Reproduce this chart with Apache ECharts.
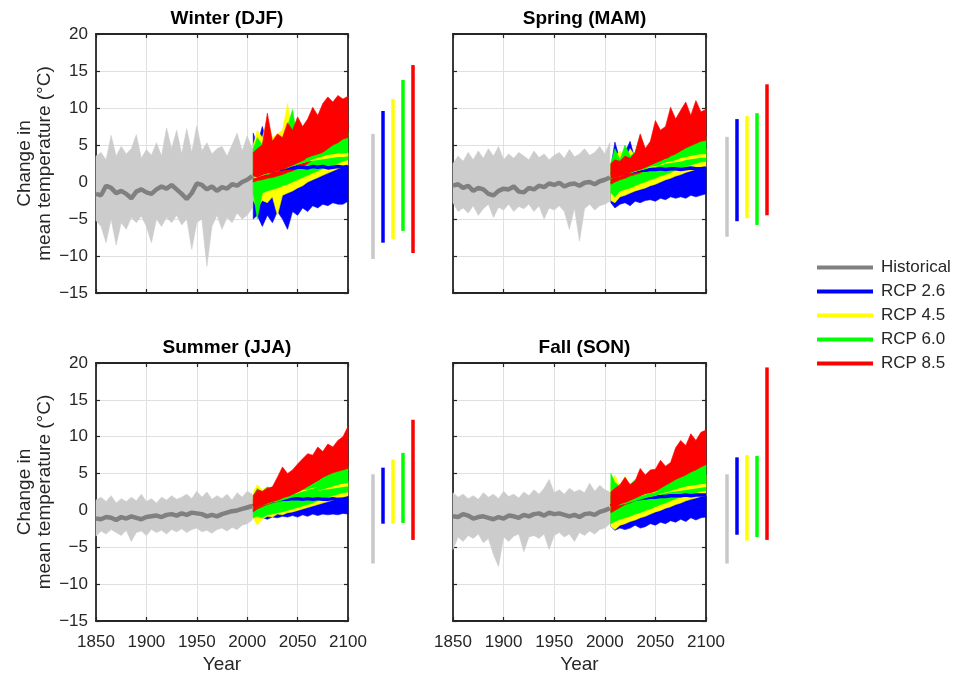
<!DOCTYPE html>
<html><head><meta charset="utf-8">
<script src="https://cdn.jsdelivr.net/npm/echarts@6.0.0/dist/echarts.min.js"></script>
<style>html,body{margin:0;padding:0;background:#fff}#chart{width:965px;height:673px}</style>
</head><body><div id="chart"></div>
<script>
// ---------- labels ----------
const panelTitles = ['Winter (DJF)', 'Spring (MAM)', 'Summer (JJA)', 'Fall (SON)'];
const scenarioNames = ['Historical', 'RCP 2.6', 'RCP 4.5', 'RCP 6.0', 'RCP 8.5'];
const xTickLabels = [1850, 1900, 1950, 2000, 2050, 2100];
const yTickLabels = [-15, -10, -5, 0, 5, 10, 15, 20];
const yLabel = 'Change in\nmean temperature (\u00B0C)';
const xLabel = 'Year';

// ---------- years ----------
const yearsHist = [1850,1855,1860,1865,1870,1875,1880,1885,1890,1895,1900,1905,1910,1915,1920,1925,1930,1935,1940,1945,1950,1955,1960,1965,1970,1975,1980,1985,1990,1995,2000,2005];
const yearsRcp = [2006,2010,2015,2020,2025,2030,2035,2040,2045,2050,2055,2060,2065,2070,2075,2080,2085,2090,2095,2100];

// ---------- Winter (DJF) ----------
const djfHistHi = [3.5,4.0,3.0,6.3,3.5,4.8,3.8,4.5,6.4,3.2,4.4,3.6,5.3,3.5,7.3,4.5,7.0,3.8,7.2,4.0,7.6,4.2,5.3,3.8,4.5,4.8,3.5,5.0,6.6,4.2,6.2,4.5];
const djfHistLo = [-5.2,-6.0,-8.2,-5.0,-8.5,-5.5,-6.4,-4.8,-5.5,-4.6,-6.0,-8.2,-5.0,-6.0,-4.8,-5.5,-4.5,-5.8,-5.0,-9.1,-5.5,-5.0,-11.4,-6.0,-4.5,-6.4,-4.8,-5.5,-4.2,-5.0,-4.5,-3.5];
const djfHistMean = [-1.6,-1.8,-0.5,-0.8,-1.5,-1.2,-1.6,-2.2,-1.3,-1.0,-1.4,-1.6,-1.0,-0.6,-0.9,-0.4,-1.0,-1.6,-2.3,-1.5,-0.2,-0.4,-1.0,-0.6,-1.2,-0.7,-0.9,-0.3,-0.5,0.0,0.3,0.8];
const djf26Hi = [6.6,5.0,7.5,5.0,6.0,5.0,4.0,4.0,3.5,3.5,3.0,3.0,2.8,3.0,2.8,3.0,2.8,3.0,2.8,3.0];
const djf26Lo = [-5.0,-4.5,-6.0,-4.5,-5.5,-4.0,-5.0,-6.4,-4.0,-4.5,-3.5,-4.0,-3.2,-3.5,-3.0,-3.2,-2.8,-3.0,-3.0,-2.6];
const djf26Mean = [0.8,1.0,1.2,1.4,1.5,1.7,1.8,1.9,1.9,2.0,2.0,1.9,2.1,2.0,2.1,1.9,2.0,2.1,2.0,2.1];
const djf45Hi = [5.0,7.0,6.0,8.5,6.0,6.5,7.0,10.6,6.5,6.0,5.0,4.5,4.5,4.2,4.0,4.2,3.8,4.0,3.8,4.0];
const djf45Lo = [-2.5,-3.5,-2.5,-2.8,-2.0,-4.5,-1.8,-1.5,-1.2,-0.8,-0.5,0.0,0.3,0.6,0.9,1.2,1.5,1.8,2.0,2.2];
const djf45Mean = [0.7,0.9,1.1,1.4,1.6,1.7,2.0,2.2,2.4,2.6,2.8,3.0,3.1,3.2,3.3,3.4,3.5,3.6,3.6,3.7];
const djf60Hi = [4.5,6.0,5.0,7.5,5.5,6.0,5.5,7.5,9.8,5.5,5.8,6.2,5.5,6.0,6.5,6.2,6.8,6.5,7.0,6.8];
const djf60Lo = [-1.5,-5.0,-1.5,-1.2,-1.0,-0.8,-0.5,-0.3,0.0,0.3,0.6,0.9,1.2,1.5,1.8,2.0,2.2,2.5,2.8,3.0];
const djf60Mean = [0.8,1.0,1.3,1.2,1.6,1.8,2.0,2.1,2.4,2.6,2.8,3.0,3.3,3.5,3.7,4.0,4.1,4.3,4.5,4.6];
const djf85Hi = [4.0,4.5,5.0,9.3,5.5,6.5,6.0,8.0,7.0,8.8,7.5,8.5,10.1,9.0,10.6,11.5,10.8,11.7,11.2,11.6];
const djf85Lo = [0.0,0.2,0.3,0.5,0.6,0.8,1.0,1.3,1.5,1.8,2.0,2.5,3.0,3.5,4.0,4.5,5.0,5.3,5.8,6.0];
const djf85Mean = [1.1,1.0,1.3,1.5,1.6,1.8,2.0,2.3,2.6,2.9,3.2,3.8,4.3,4.8,5.4,6.1,6.5,7.0,7.4,7.8];
const djfRangeLo = [-10.4,-8.2,-7.7,-6.6,-9.6];
const djfRangeHi = [6.5,9.6,11.2,13.8,15.8];

// ---------- Spring (MAM) ----------
const mamHistHi = [2.5,3.5,2.8,4.0,3.0,4.2,3.2,4.5,3.5,4.8,3.0,3.8,3.2,4.0,3.5,3.0,4.2,3.3,3.8,3.0,3.6,4.0,3.2,4.4,3.4,3.8,4.5,3.6,4.0,4.8,3.8,5.3];
const mamHistLo = [-2.8,-4.0,-3.5,-4.2,-3.2,-4.5,-3.6,-3.0,-4.8,-3.4,-3.8,-3.0,-4.0,-3.3,-3.6,-3.0,-4.0,-3.2,-5.0,-3.5,-3.8,-3.2,-4.0,-6.4,-3.5,-8.0,-3.6,-3.0,-3.8,-3.2,-3.0,-2.6];
const mamHistMean = [-0.5,-0.3,-0.8,-0.5,-1.2,-0.8,-1.0,-1.6,-1.8,-1.2,-0.9,-1.0,-0.6,-1.3,-1.4,-0.8,-1.0,-0.5,-0.7,-0.2,-0.4,-0.1,-0.6,-0.3,-0.2,-0.5,-0.1,0.0,-0.3,0.1,0.3,0.6];
const mam26Hi = [2.0,5.4,3.0,4.0,5.5,3.0,4.0,3.0,3.5,3.0,3.2,3.0,3.2,3.0,3.3,3.0,3.2,3.0,3.3,3.0];
const mam26Lo = [-2.8,-3.5,-3.0,-2.8,-3.2,-2.6,-2.8,-2.5,-2.4,-2.6,-2.2,-2.4,-2.0,-2.2,-2.0,-2.2,-1.8,-2.0,-1.8,-1.6];
const mam26Mean = [0.7,0.9,1.1,1.2,1.4,1.5,1.6,1.6,1.7,1.7,1.8,1.7,1.8,1.8,1.7,1.8,1.9,1.8,1.8,1.9];
const mam45Hi = [2.5,3.5,4.2,3.0,4.5,3.5,4.0,4.8,4.0,4.5,4.0,4.5,4.2,4.4,4.2,4.5,4.3,4.6,4.4,4.5];
const mam45Lo = [-2.5,-2.8,-2.0,-1.8,-1.5,-1.2,-1.0,-0.8,-0.5,-0.3,0.0,0.3,0.5,0.8,1.0,1.3,1.5,1.7,1.9,2.0];
const mam45Mean = [0.7,0.9,1.0,1.3,1.5,1.6,1.8,2.0,2.2,2.3,2.5,2.7,2.8,2.9,3.0,3.2,3.3,3.4,3.5,3.5];
const mam60Hi = [2.5,4.5,3.0,5.0,3.5,4.0,6.3,4.5,5.0,4.8,5.2,5.0,5.5,5.4,6.0,5.8,6.3,6.0,6.5,6.2];
const mam60Lo = [-1.5,-2.0,-1.2,-1.0,-0.8,-0.5,-0.2,0.0,0.3,0.5,0.8,1.0,1.3,1.6,1.9,2.1,2.3,2.5,2.7,2.8];
const mam60Mean = [0.7,0.8,1.1,1.3,1.4,1.7,1.8,2.0,2.3,2.4,2.6,2.9,3.0,3.2,3.5,3.6,3.8,4.0,4.1,4.2];
const mam85Hi = [2.5,3.0,2.8,3.5,3.2,4.0,6.5,4.5,5.5,8.3,7.0,7.5,10.1,8.5,9.7,10.8,9.0,11.0,9.5,9.8];
const mam85Lo = [-0.3,0.0,0.3,0.5,0.8,1.0,1.2,1.6,2.0,2.3,2.6,3.0,3.5,3.8,4.2,4.6,4.9,5.2,5.5,5.6];
const mam85Mean = [0.8,0.9,1.1,1.3,1.6,1.8,2.0,2.3,2.6,2.9,3.2,3.7,4.1,4.4,4.8,5.2,5.5,5.8,6.1,6.3];
const mamRangeLo = [-7.4,-5.3,-4.9,-5.8,-4.5];
const mamRangeHi = [6.1,8.5,8.9,9.3,13.2];

// ---------- Summer (JJA) ----------
const jjaHistHi = [1.4,1.8,1.2,2.0,1.0,1.6,1.2,1.8,1.3,2.2,1.2,1.6,1.0,1.8,1.4,2.0,1.5,1.8,2.2,1.6,2.6,1.8,2.5,1.5,2.0,1.6,2.2,1.4,2.4,1.8,2.6,2.2];
const jjaHistLo = [-3.5,-2.8,-3.2,-2.6,-3.0,-3.4,-2.7,-4.2,-3.0,-2.8,-3.4,-2.6,-3.0,-2.7,-3.2,-2.6,-2.9,-2.5,-3.0,-2.6,-2.4,-2.9,-2.7,-3.1,-2.6,-2.4,-2.8,-2.3,-2.6,-2.0,-1.8,-1.3];
const jjaHistMean = [-1.1,-1.2,-0.9,-1.0,-1.3,-0.9,-1.1,-0.8,-1.0,-1.2,-0.9,-0.8,-0.7,-0.9,-0.6,-0.5,-0.7,-0.4,-0.6,-0.3,-0.4,-0.5,-0.8,-0.6,-0.8,-0.5,-0.3,-0.1,0.0,0.2,0.4,0.6];
const jja26Hi = [1.5,2.2,1.8,2.4,2.0,2.6,2.2,3.8,2.4,2.5,2.3,2.6,2.4,2.7,2.5,2.8,2.6,2.8,2.7,2.8];
const jja26Lo = [-1.0,-1.4,-1.0,-1.2,-0.9,-1.0,-0.8,-0.9,-0.7,-0.9,-0.6,-0.8,-0.5,-0.7,-0.5,-0.6,-0.5,-0.6,-0.4,-0.5];
const jja26Mean = [0.6,0.8,1.0,1.2,1.3,1.4,1.5,1.5,1.6,1.6,1.5,1.6,1.5,1.6,1.5,1.5,1.6,1.5,1.5,1.6];
const jja45Hi = [2.5,3.5,2.8,3.2,2.6,3.0,2.8,3.2,3.0,3.3,3.2,3.4,3.4,3.6,3.6,3.8,3.8,4.0,4.0,4.0];
const jja45Lo = [-1.0,-2.0,-1.2,-0.8,-0.9,-0.5,-0.6,-0.3,-0.2,0.0,0.2,0.4,0.6,0.8,1.0,1.2,1.4,1.6,1.8,2.0];
const jja45Mean = [0.6,0.8,1.0,1.2,1.4,1.6,1.8,2.0,2.1,2.3,2.5,2.6,2.8,2.9,3.0,3.1,3.2,3.3,3.4,3.5];
const jja60Hi = [2.0,3.0,2.5,3.2,2.8,3.1,3.5,3.4,3.9,4.0,4.3,4.2,4.7,4.9,4.8,5.3,5.4,5.5,5.9,6.0];
const jja60Lo = [-1.0,-0.8,-1.0,-0.6,-0.5,-0.3,-0.2,0.0,0.2,0.4,0.6,0.8,1.0,1.3,1.5,1.8,2.0,2.2,2.4,2.5];
const jja60Mean = [0.5,0.7,0.9,1.1,1.3,1.4,1.6,1.8,2.0,2.1,2.3,2.5,2.7,2.9,3.1,3.3,3.5,3.7,3.9,4.0];
const jja85Hi = [2.0,2.8,2.6,3.0,3.2,4.5,5.9,5.0,5.5,6.3,7.0,7.7,7.5,8.6,8.0,9.0,8.6,9.5,10.0,11.4];
const jja85Lo = [-0.2,0.2,0.5,0.8,1.0,1.2,1.5,1.8,2.1,2.5,2.9,3.3,3.7,4.1,4.5,4.8,5.1,5.3,5.5,5.7];
const jja85Mean = [0.5,0.8,1.0,1.3,1.5,1.7,2.0,2.2,2.5,2.8,3.2,3.6,4.0,4.4,4.9,5.3,5.7,6.0,6.4,6.7];
const jjaRangeLo = [-7.2,-1.8,-1.8,-1.7,-4.0];
const jjaRangeHi = [4.9,5.8,6.9,7.8,12.3];

// ---------- Fall (SON) ----------
const sonHistHi = [2.4,1.8,2.2,1.6,2.0,1.5,2.4,1.8,2.2,1.6,2.6,1.9,2.2,1.7,2.5,2.0,2.8,2.2,3.0,4.2,2.4,2.8,2.2,3.0,2.5,2.8,2.4,3.7,2.6,3.4,2.8,2.5];
const sonHistLo = [-5.3,-3.6,-4.2,-3.4,-3.8,-3.2,-4.4,-3.8,-6.0,-7.6,-3.6,-4.2,-3.5,-3.2,-5.6,-3.6,-3.4,-3.8,-3.2,-5.3,-3.4,-3.0,-3.6,-3.2,-4.2,-3.0,-3.4,-2.8,-3.2,-2.6,-2.4,-1.8];
const sonHistMean = [-0.8,-0.9,-0.5,-0.7,-1.1,-0.9,-0.8,-1.0,-1.2,-0.9,-1.1,-0.7,-0.8,-1.0,-0.6,-0.8,-0.5,-0.4,-0.7,-0.3,-0.5,-0.4,-0.6,-0.8,-0.6,-0.9,-0.5,-0.4,-0.6,-0.2,0.0,0.3];
const son26Hi = [2.0,4.0,2.5,3.0,2.6,2.8,2.5,2.6,2.4,2.7,2.8,2.6,2.9,2.7,3.0,2.8,3.0,2.9,3.1,3.0];
const son26Lo = [-2.2,-2.7,-2.4,-2.6,-2.4,-2.0,-2.4,-2.2,-1.8,-2.0,-1.6,-1.8,-1.4,-1.6,-1.2,-1.5,-1.0,-1.3,-1.0,-0.9];
const son26Mean = [0.6,0.8,1.0,1.2,1.3,1.5,1.6,1.7,1.8,1.8,1.9,1.9,2.0,2.0,2.0,2.1,2.0,2.1,2.1,2.1];
const son45Hi = [3.5,4.8,3.2,4.6,3.5,4.0,3.4,3.8,3.4,3.6,3.8,3.9,4.0,4.2,4.3,4.4,4.5,4.6,4.6,4.8];
const son45Lo = [-2.2,-2.6,-2.0,-1.8,-1.5,-1.3,-1.0,-0.8,-0.5,-0.2,0.0,0.3,0.5,0.8,1.0,1.3,1.5,1.7,1.9,2.0];
const son45Mean = [0.5,0.8,1.0,1.2,1.4,1.6,1.8,2.0,2.1,2.3,2.4,2.6,2.7,2.8,2.9,3.0,3.1,3.2,3.3,3.4];
const son60Hi = [5.0,3.8,3.2,4.0,3.5,4.2,3.8,4.0,3.8,4.2,4.4,4.6,4.8,5.2,5.0,5.4,5.6,5.8,6.0,6.2];
const son60Lo = [-1.8,-1.5,-1.2,-1.0,-0.8,-0.5,-0.3,0.0,0.2,0.5,0.8,1.0,1.3,1.6,1.8,2.0,2.2,2.4,2.6,2.7];
const son60Mean = [0.5,0.8,1.0,1.1,1.3,1.5,1.7,1.9,2.1,2.2,2.5,2.7,2.9,3.1,3.3,3.5,3.7,3.9,4.0,4.2];
const son85Hi = [2.5,3.0,3.5,4.5,3.5,4.0,5.7,4.8,5.5,5.6,6.8,6.0,6.5,8.5,9.5,8.8,10.4,9.5,10.6,10.9];
const son85Lo = [-0.3,0.0,0.4,0.8,1.0,1.3,1.6,1.9,2.2,2.6,3.0,3.4,3.8,4.2,4.5,4.8,5.2,5.5,5.9,6.2];
const son85Mean = [0.5,0.8,1.2,1.4,1.7,2.0,2.3,2.6,2.9,3.2,3.5,3.9,4.3,4.7,5.0,5.4,5.8,6.2,6.5,6.8];
const sonRangeLo = [-7.2,-3.3,-4.1,-3.6,-4.0];
const sonRangeHi = [4.9,7.2,7.5,7.4,19.4];

// ---------- styling (not data) ----------
const FONT = "'Liberation Sans', Arial, Helvetica, sans-serif";
const INK = '#262626';
const histBandColor = '#cccccc';
const histMeanColor = '#808080';
const rcpColors = ['#0000ff', '#ffff00', '#00ff00', '#ff0000'];
const rangeColors = ['#c8c8c8', '#0000ff', '#ffff00', '#00ff00', '#ff0000'];

const panels = [
  { hist: [djfHistLo, djfHistHi, djfHistMean],
    rcp: [[djf26Lo, djf26Hi, djf26Mean], [djf45Lo, djf45Hi, djf45Mean], [djf60Lo, djf60Hi, djf60Mean], [djf85Lo, djf85Hi, djf85Mean]],
    range: [djfRangeLo, djfRangeHi] },
  { hist: [mamHistLo, mamHistHi, mamHistMean],
    rcp: [[mam26Lo, mam26Hi, mam26Mean], [mam45Lo, mam45Hi, mam45Mean], [mam60Lo, mam60Hi, mam60Mean], [mam85Lo, mam85Hi, mam85Mean]],
    range: [mamRangeLo, mamRangeHi] },
  { hist: [jjaHistLo, jjaHistHi, jjaHistMean],
    rcp: [[jja26Lo, jja26Hi, jja26Mean], [jja45Lo, jja45Hi, jja45Mean], [jja60Lo, jja60Hi, jja60Mean], [jja85Lo, jja85Hi, jja85Mean]],
    range: [jjaRangeLo, jjaRangeHi] },
  { hist: [sonHistLo, sonHistHi, sonHistMean],
    rcp: [[son26Lo, son26Hi, son26Mean], [son45Lo, son45Hi, son45Mean], [son60Lo, son60Hi, son60Mean], [son85Lo, son85Hi, son85Mean]],
    range: [sonRangeLo, sonRangeHi] }
];

const gridBoxes = [
  { left: 96, top: 34, width: 252, height: 259 },
  { left: 453, top: 34, width: 253, height: 259 },
  { left: 96, top: 363, width: 252, height: 258 },
  { left: 453, top: 363, width: 253, height: 258 }
];
const barBoxes = [
  { left: 368, top: 34, width: 50, height: 259 },
  { left: 722, top: 34, width: 50, height: 259 },
  { left: 368, top: 363, width: 50, height: 258 },
  { left: 722, top: 363, width: 50, height: 258 }
];

const grid = [], xAxis = [], yAxis = [], series = [], title = [];
const xMin = xTickLabels[0], xMax = xTickLabels[xTickLabels.length - 1], xStep = xTickLabels[1] - xTickLabels[0];
const yMin = yTickLabels[0], yMax = yTickLabels[yTickLabels.length - 1], yStep = yTickLabels[1] - yTickLabels[0];

function bandRender(color) {
  return function (params, api) {
    if (params.dataIndexInside !== 0) return null;
    const n = params.dataInsideLength;
    const top = [], bot = [];
    for (let j = 0; j < n; j++) {
      top.push(api.coord([api.value(0, j), api.value(2, j)]));
      bot.push(api.coord([api.value(0, j), api.value(1, j)]));
    }
    return { type: 'polygon', shape: { points: top.concat(bot.reverse()) },
             style: { fill: color, stroke: color, lineWidth: 0.6 } };
  };
}

panels.forEach((p, i) => {
  const bottomRow = i >= 2, leftCol = i % 2 === 0;
  const g = gridBoxes[i];
  grid.push(Object.assign({ containLabel: false, outerBoundsMode: 'none' }, g));
  grid.push(Object.assign({ containLabel: false, outerBoundsMode: 'none' }, barBoxes[i]));
  const gi = i * 2, bi = i * 2 + 1;
  const axLine = { show: true, lineStyle: { color: INK, width: 1.8 } };
  const tick = { show: true, inside: true, length: 4, lineStyle: { color: INK, width: 1.2 } };
  xAxis.push({ gridIndex: gi, type: 'value', min: xMin, max: xMax, interval: xStep, position: 'bottom',
    axisLine: Object.assign({ onZero: false }, axLine), axisTick: tick,
    axisLabel: { show: bottomRow, fontSize: 17, color: INK, margin: 13, fontFamily: FONT,
                 formatter: v => String(v) },
    splitLine: { show: true, lineStyle: { color: '#e0e0e0', width: 1 } },
    name: bottomRow ? xLabel : '', nameLocation: 'middle', nameGap: 34,
    nameTextStyle: { fontSize: 19, color: INK, fontFamily: FONT } });
  xAxis.push({ gridIndex: gi, type: 'value', min: xMin, max: xMax, interval: xStep, position: 'top',
    axisLine: Object.assign({ onZero: false }, axLine), axisTick: tick, axisLabel: { show: false }, splitLine: { show: false } });
  yAxis.push({ gridIndex: gi, type: 'value', min: yMin, max: yMax, interval: yStep, position: 'left',
    axisLine: Object.assign({ onZero: false }, axLine), axisTick: tick,
    axisLabel: { show: leftCol, fontSize: 17, color: INK, margin: 8, fontFamily: FONT,
                 formatter: v => String(v).replace('-', '\u2212') },
    splitLine: { show: true, lineStyle: { color: '#e0e0e0', width: 1 } },
    name: leftCol ? yLabel : '', nameLocation: 'middle', nameGap: 33, nameRotate: 90,
    nameTextStyle: { fontSize: 19, lineHeight: 20, color: INK, fontFamily: FONT } });
  yAxis.push({ gridIndex: gi, type: 'value', min: yMin, max: yMax, interval: yStep, position: 'right',
    axisLine: Object.assign({ onZero: false }, axLine), axisTick: tick, axisLabel: { show: false }, splitLine: { show: false } });
  xAxis.push({ gridIndex: bi, type: 'category', data: scenarioNames, show: false });
  yAxis.push({ gridIndex: bi, type: 'value', min: yMin, max: yMax, show: false });

  const xi = i * 3, yi = i * 3, xbar = i * 3 + 2, ybar = i * 3 + 2;

  series.push({ type: 'custom', xAxisIndex: xi, yAxisIndex: yi, silent: true, z: 2,
    renderItem: bandRender(histBandColor), encode: { x: 0, y: [1, 2] },
    data: yearsHist.map((yr, k) => [yr, p.hist[0][k], p.hist[1][k]]) });
  // RCP bands: RCP 2.6 underneath, RCP 8.5 on top
  for (let s = 0; s < 4; s++) {
    series.push({ type: 'custom', xAxisIndex: xi, yAxisIndex: yi, silent: true, z: 3,
      renderItem: bandRender(rcpColors[s]), encode: { x: 0, y: [1, 2] },
      data: yearsRcp.map((yr, k) => [yr, p.rcp[s][0][k], p.rcp[s][1][k]]) });
  }
  series.push({ type: 'line', name: scenarioNames[0], xAxisIndex: xi, yAxisIndex: yi, z: 4,
    data: yearsHist.map((yr, k) => [yr, p.hist[2][k]]), showSymbol: false, symbol: 'none',
    color: histMeanColor, lineStyle: { color: histMeanColor, width: 4.5 }, animation: false });
  for (let s = 0; s < 4; s++) {
    series.push({ type: 'line', name: scenarioNames[s + 1], xAxisIndex: xi, yAxisIndex: yi, z: 4,
      data: yearsRcp.map((yr, k) => [yr, p.rcp[s][2][k]]), showSymbol: false, symbol: 'none',
      color: rcpColors[s], lineStyle: { color: rcpColors[s], width: s === 3 ? 5 : 3.5 }, animation: false });
  }
  series.push({ type: 'custom', xAxisIndex: xbar, yAxisIndex: ybar, silent: true,
    encode: { x: 0, y: [1, 2] },
    data: scenarioNames.map((nm, k) => [k, p.range[0][k], p.range[1][k]]),
    renderItem: function (params, api) {
      const a = api.coord([api.value(0), api.value(1)]);
      const b = api.coord([api.value(0), api.value(2)]);
      return { type: 'line', shape: { x1: a[0], y1: a[1], x2: b[0], y2: b[1] },
               style: { stroke: rangeColors[params.dataIndex], lineWidth: 3.5 } };
    } });

  title.push({ text: panelTitles[i], left: g.left + g.width / 2, top: bottomRow ? 333 : 4, textAlign: 'center',
    textStyle: { fontSize: 19, fontWeight: 'bold', color: '#000', fontFamily: FONT } });
});

const chart = echarts.init(document.getElementById('chart'), null, { renderer: 'canvas' });
chart.setOption({
  animation: false,
  backgroundColor: '#ffffff',
  title: title,
  grid: grid, xAxis: xAxis, yAxis: yAxis, series: series,
  legend: { show: true, orient: 'vertical', left: 817, top: 259, padding: 0, itemWidth: 56, itemHeight: 4, itemGap: 7,
    icon: 'rect', data: scenarioNames, selectedMode: false,
    textStyle: { fontSize: 17, color: INK, fontFamily: FONT, padding: [0, 0, 0, 3] } }
});
</script></body></html>
